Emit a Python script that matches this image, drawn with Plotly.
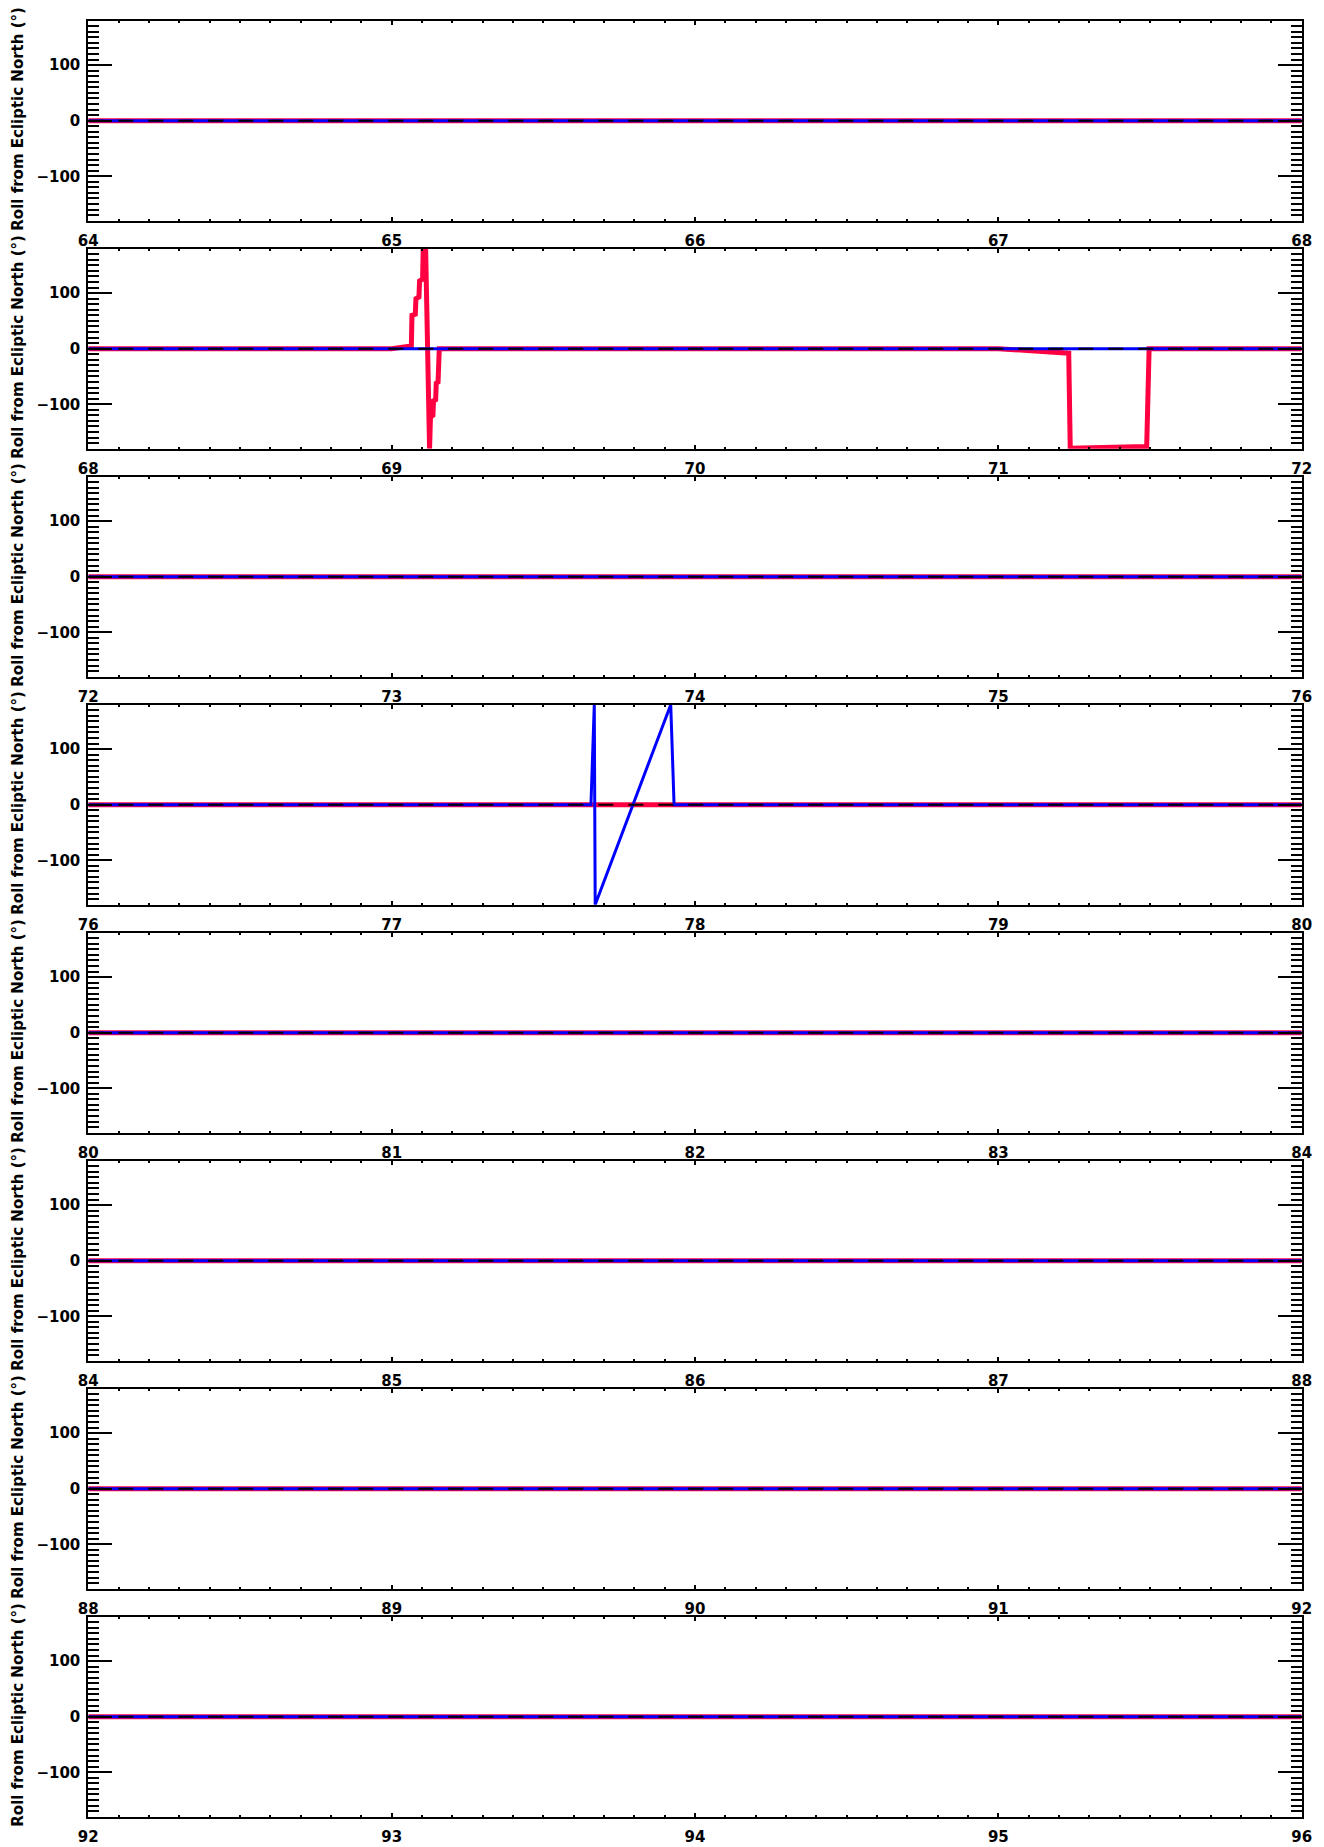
import plotly.graph_objects as go

# ---- data ----
panel_starts = [64, 68, 72, 76, 80, 84, 88, 92]
panel_span = 4
y_ticks = [-100, 0, 100]
y_title = "Roll from Ecliptic North (°)"

# red series (panel index -> x / y)
red_x = {
    1: [68.0, 69.0, 69.065, 69.067, 69.078, 69.080, 69.090, 69.092, 69.102, 69.104, 69.112,
        69.125, 69.128, 69.136, 69.138, 69.145, 69.147, 69.153, 69.157, 71.0, 71.232,
        71.237, 71.489, 71.497, 72.0],
}
red_y = {
    1: [0, 0, 5, 60, 62, 90, 93, 122, 125, 180, 180,
        -180, -123, -120, -94, -92, -62, -60, 0, 0, -8,
        -179, -176, 0, 0],
}
# blue series
blue_x = {
    3: [76.0, 77.657, 77.668, 77.671, 77.92, 77.931, 80.0],
}
blue_y = {
    3: [0, 0, 180, -180, 180, 0, 0],
}

RED = "rgb(255,0,64)"
BLUE = "rgb(0,0,255)"
TICKFONT = dict(family="DejaVu Sans", size=15, color="black", weight="bold")
TITLEFONT = dict(family="DejaVu Sans", size=15, color="black", weight="bold")

# page has an 8px body margin: work in div coordinates
OFF = 8
W, H = 1324 - 2 * OFF, 1847 - OFF
left_px, right_px = 88.3 - OFF, 1301.7 - OFF
top0, ph, gap = 20.7 - OFF, 200, 228
title_x = 18 - OFF

fig = go.Figure()
layout = dict(width=W, height=H, margin=dict(l=0, r=0, t=0, b=0, pad=0, autoexpand=False),
              paper_bgcolor="white", plot_bgcolor="white", showlegend=False)
annotations = []

for i, x0 in enumerate(panel_starts):
    n = "" if i == 0 else str(i + 1)
    xa, ya = "x" + n, "y" + n
    x1 = x0 + panel_span
    rx = red_x.get(i, [x0, x1]); ry = red_y.get(i, [0, 0])
    bx = blue_x.get(i, [x0, x1]); by = blue_y.get(i, [0, 0])
    fig.add_trace(go.Scatter(x=rx, y=ry, mode="lines", line=dict(color=RED, width=5),
                             xaxis=xa, yaxis=ya))
    fig.add_trace(go.Scatter(x=bx, y=by, mode="lines", line=dict(color=BLUE, width=3),
                             xaxis=xa, yaxis=ya))
    fig.add_trace(go.Scatter(x=[x0, x1], y=[0, 0], mode="lines",
                             line=dict(color="black", width=2, dash="15px,15px"),
                             xaxis=xa, yaxis=ya))
    top = top0 + gap * i
    bot = top + ph
    ydom = [1 - bot / H, 1 - top / H]
    layout["xaxis" + n] = dict(
        domain=[left_px / W, right_px / W], anchor=ya, range=[x0, x1], automargin=False,
        tick0=0, dtick=1, ticks="inside", ticklen=4, tickwidth=1.5, tickcolor="black",
        showline=True, linewidth=2, linecolor="black", mirror="ticks",
        showgrid=False, zeroline=False, tickfont=TICKFONT, ticklabelstandoff=5,
        minor=dict(dtick=0.1, tick0=0, ticks="inside", ticklen=2, tickwidth=1.5,
                   tickcolor="black", showgrid=False),
    )
    layout["yaxis" + n] = dict(
        domain=ydom, anchor=xa, range=[-180, 180], tickvals=y_ticks, automargin=False,
        ticks="inside", ticklen=24, tickwidth=2, tickcolor="black",
        showline=True, linewidth=2, linecolor="black", mirror="ticks",
        showgrid=False, zeroline=False, tickfont=TICKFONT, ticklabelstandoff=3,
        minor=dict(dtick=10, tick0=0, ticks="inside", ticklen=11, tickwidth=2,
                   tickcolor="black", showgrid=False),
    )
    annotations.append(dict(text=y_title, xref="paper", yref="paper",
                            x=title_x / W, y=1 - (top + ph / 2 - 2) / H, textangle=-90,
                            showarrow=False, xanchor="center", yanchor="middle",
                            font=TITLEFONT))

layout["annotations"] = annotations
fig.update_layout(**layout)
fig.write_html("out.html")
